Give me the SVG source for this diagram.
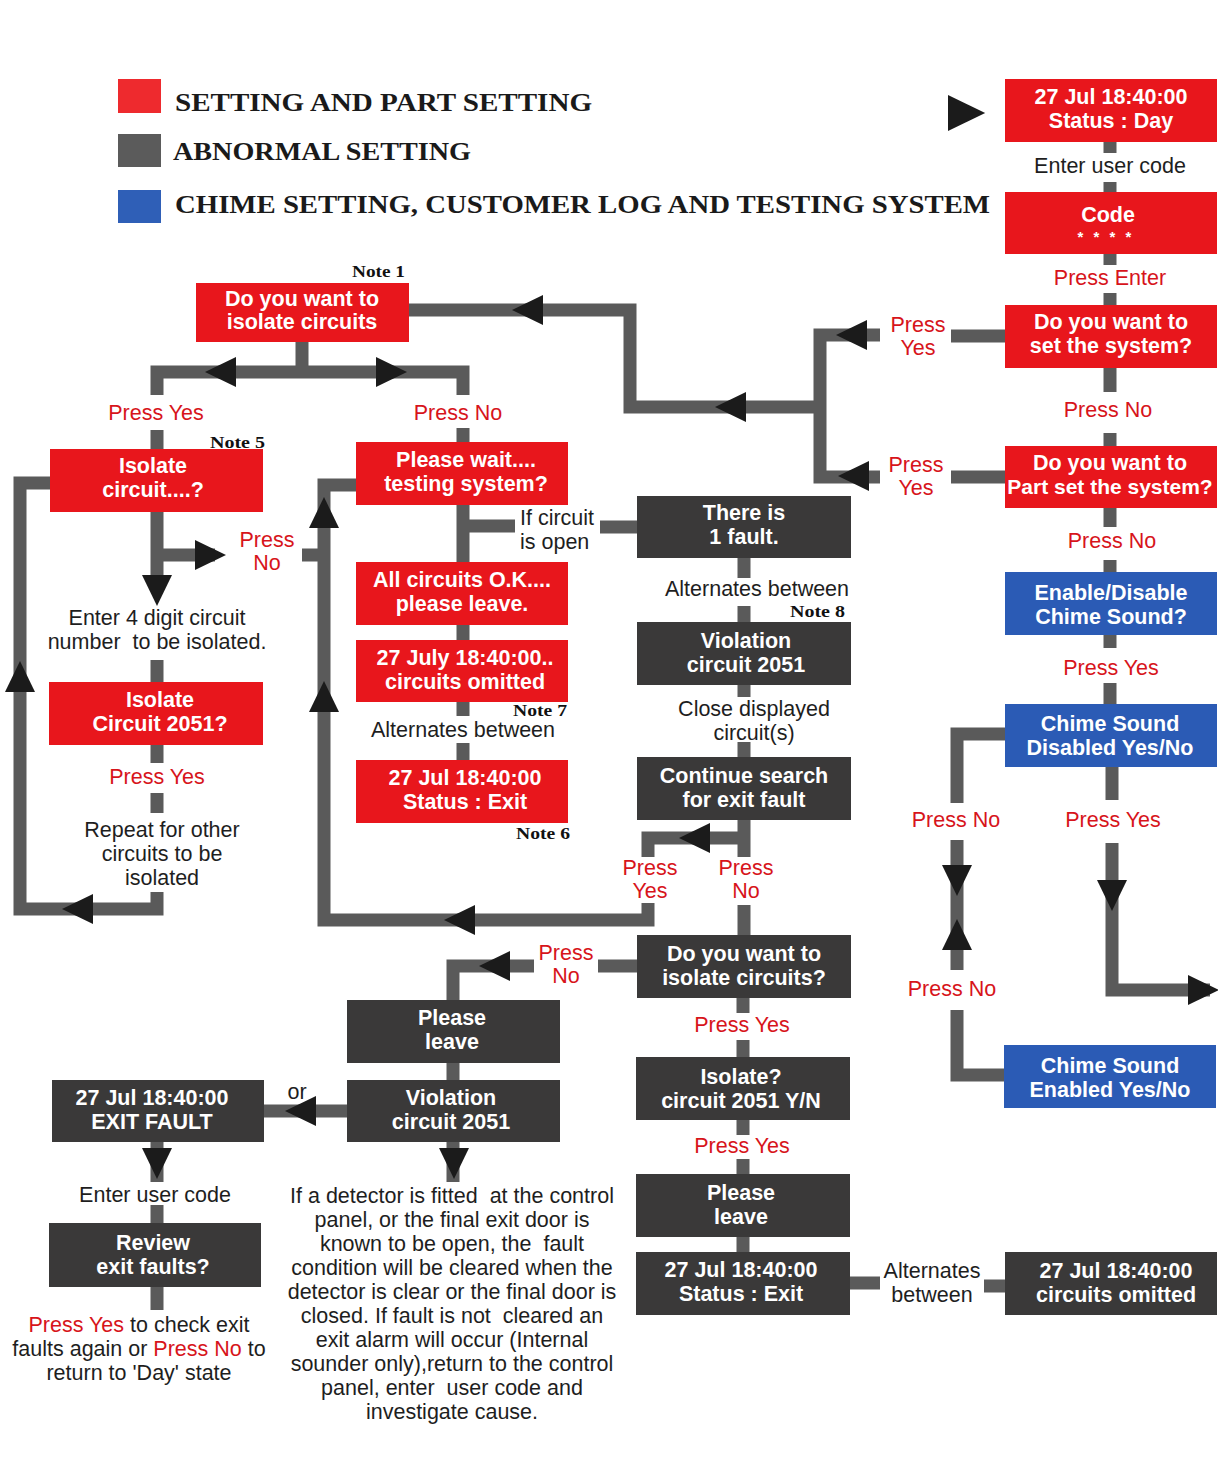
<svg xmlns="http://www.w3.org/2000/svg" xmlns:xlink="http://www.w3.org/1999/xlink" width="1218" height="1459" viewBox="0 0 1218 1459">
<style>
.c{fill:none;stroke:#5a5a5a;stroke-width:13;stroke-linejoin:miter;stroke-linecap:butt}
.red{fill:#e8161c}
.dark{fill:#3a3939}
.blue{fill:#2b5bb5}
.bt{font-family:"Liberation Sans",Arial,sans-serif;font-weight:bold;font-size:21.5px;fill:#fff;text-anchor:middle}
.lbl{font-family:"Liberation Sans",Arial,sans-serif;font-size:21.5px;fill:#d7141b;text-anchor:middle}
.txt{font-family:"Liberation Sans",Arial,sans-serif;font-size:21.5px;fill:#1e1e1e;text-anchor:middle;white-space:pre}
.r{fill:#d7141b}
.note{font-family:"Liberation Serif","Times New Roman",serif;font-weight:bold;font-size:16px;fill:#111}
.leg{font-family:"Liberation Serif","Times New Roman",serif;font-weight:bold;font-size:26px;fill:#1a1a1a}
</style>
<defs>
<path id="ah" d="M16,0 L-15,-15 L-15,15 Z" fill="#1b1b1b"/>
</defs>
<rect x="0" y="0" width="1218" height="1459" fill="#fff"/>

<g id="legend">
<rect x="118" y="79" width="43" height="34" fill="#ee2a2e"/>
<rect x="118" y="134" width="43" height="33" fill="#5b5b5b"/>
<rect x="118" y="190" width="43" height="33" fill="#2f5fb7"/>
<text class="leg" x="175" y="111" textLength="417" lengthAdjust="spacingAndGlyphs">SETTING AND PART SETTING</text>
<text class="leg" x="173" y="160" textLength="298" lengthAdjust="spacingAndGlyphs">ABNORMAL SETTING</text>
<text class="leg" x="175" y="213" textLength="815" lengthAdjust="spacingAndGlyphs">CHIME SETTING, CUSTOMER LOG AND TESTING SYSTEM</text>
</g>

<g id="connectors">
<path class="c" d="M409,310 H630 V407 H820"/>
<path class="c" d="M880,335 H820 V477 H880"/>
<path class="c" d="M951,336 H1005 M951,477 H1005"/>
<path class="c" d="M302,342 V372 M157,395 V372 H463 V395"/>
<path class="c" d="M157,430 V449 M463,428 V442"/>
<path class="c" d="M50,483 H20 V909 H157 V892"/>
<path class="c" d="M157,512 V590 M157,555 H215 M302,555 H324"/>
<path class="c" d="M157,660 V682 M157,745 V763 M157,793 V813"/>
<path class="c" d="M356,485 H324 V920 H648 V903"/>
<path class="c" d="M744,820 V857 M744,838 H648 V857"/>
<path class="c" d="M463,505 V562 M463,526 H515 M600,527 H637"/>
<path class="c" d="M463,625 V640 M463,702 V716 M463,743 V760"/>
<path class="c" d="M744,558 V578 M744,606 V622 M744,685 V697 M744,742 V757"/>
<path class="c" d="M744,905 V935"/>
<path class="c" d="M637,966 H598 M534,966 H453 V1000"/>
<path class="c" d="M453,1063 V1080 M347,1111 H264 M453,1142 V1182 M157,1142 V1182"/>
<path class="c" d="M157,1205 V1223 M157,1287 V1310"/>
<path class="c" d="M743,998 V1013 M743,1040 V1057 M743,1120 V1135 M743,1159 V1174 M743,1237 V1252"/>
<path class="c" d="M850,1283 H880 M984,1286 H1005"/>
<path class="c" d="M1005,734 H957 V803 M957,840 V970 M957,1010 V1075 H1005"/>
<path class="c" d="M1112,767 V800 M1112,843 V990 H1210"/>
<path class="c" d="M1110,142 V153 M1110,182 V192 M1110,254 V265 M1110,293 V305 M1110,368 V392 M1110,433 V446 M1110,508 V527 M1110,560 V572 M1110,635 V648 M1110,683 V704"/>
<use xlink:href="#ah" transform="translate(966,113) scale(1.2)"/>
<use xlink:href="#ah" transform="translate(528,310) rotate(180)"/>
<use xlink:href="#ah" transform="translate(731,407) rotate(180)"/>
<use xlink:href="#ah" transform="translate(852,335) rotate(180)"/>
<use xlink:href="#ah" transform="translate(854,476) rotate(180)"/>
<use xlink:href="#ah" transform="translate(221,372) rotate(180)"/>
<use xlink:href="#ah" transform="translate(391,372)"/>
<use xlink:href="#ah" transform="translate(157,590) rotate(90)"/>
<use xlink:href="#ah" transform="translate(210,555)"/>
<use xlink:href="#ah" transform="translate(20,677) rotate(-90)"/>
<use xlink:href="#ah" transform="translate(78,909) rotate(180)"/>
<use xlink:href="#ah" transform="translate(324,513) rotate(-90)"/>
<use xlink:href="#ah" transform="translate(324,697) rotate(-90)"/>
<use xlink:href="#ah" transform="translate(460,920) rotate(180)"/>
<use xlink:href="#ah" transform="translate(695,838) rotate(180)"/>
<use xlink:href="#ah" transform="translate(495,966) rotate(180)"/>
<use xlink:href="#ah" transform="translate(301,1111) rotate(180)"/>
<use xlink:href="#ah" transform="translate(454,1163) rotate(90)"/>
<use xlink:href="#ah" transform="translate(157,1163) rotate(90)"/>
<use xlink:href="#ah" transform="translate(957,880) rotate(90)"/>
<use xlink:href="#ah" transform="translate(957,935) rotate(-90)"/>
<use xlink:href="#ah" transform="translate(1112,895) rotate(90)"/>
<use xlink:href="#ah" transform="translate(1203,990)"/>
</g>

<g id="labels">
<text class="lbl" x="1110" y="285">Press Enter</text>
<text class="lbl" x="918" y="332">Press</text><text class="lbl" x="918" y="355">Yes</text>
<text class="lbl" x="1108" y="417">Press No</text>
<text class="lbl" x="916" y="472">Press</text><text class="lbl" x="916" y="495">Yes</text>
<text class="lbl" x="1112" y="548">Press No</text>
<text class="lbl" x="1111" y="675">Press Yes</text>
<text class="lbl" x="956" y="827">Press No</text>
<text class="lbl" x="1113" y="827">Press Yes</text>
<text class="lbl" x="952" y="996">Press No</text>
<text class="lbl" x="156" y="420">Press Yes</text>
<text class="lbl" x="458" y="420">Press No</text>
<text class="lbl" x="267" y="547">Press</text><text class="lbl" x="267" y="570">No</text>
<text class="lbl" x="157" y="784">Press Yes</text>
<text class="lbl" x="650" y="875">Press</text><text class="lbl" x="650" y="898">Yes</text>
<text class="lbl" x="746" y="875">Press</text><text class="lbl" x="746" y="898">No</text>
<text class="lbl" x="566" y="960">Press</text><text class="lbl" x="566" y="983">No</text>
<text class="lbl" x="742" y="1032">Press Yes</text>
<text class="lbl" x="742" y="1153">Press Yes</text>

<text class="txt" x="1110" y="173">Enter user code</text>
<text class="txt" x="157" y="625">Enter 4 digit circuit</text>
<text class="txt" x="157" y="649">number  to be isolated.</text>
<text class="txt" x="162" y="837">Repeat for other</text>
<text class="txt" x="162" y="861">circuits to be</text>
<text class="txt" x="162" y="885">isolated</text>
<text class="txt" x="520" y="525" style="text-anchor:start">If circuit</text>
<text class="txt" x="520" y="549" style="text-anchor:start">is open</text>
<text class="txt" x="463" y="737">Alternates between</text>
<text class="txt" x="757" y="596">Alternates between</text>
<text class="txt" x="754" y="716">Close displayed</text>
<text class="txt" x="754" y="740">circuit(s)</text>
<text class="txt" x="297" y="1099">or</text>
<text class="txt" x="155" y="1202">Enter user code</text>
<text class="txt" x="932" y="1278">Alternates</text>
<text class="txt" x="932" y="1302">between</text>
<text class="txt" x="452" y="1203">If a detector is fitted  at the control</text>
<text class="txt" x="452" y="1227">panel, or the final exit door is</text>
<text class="txt" x="452" y="1251">known to be open, the  fault</text>
<text class="txt" x="452" y="1275">condition will be cleared when the</text>
<text class="txt" x="452" y="1299">detector is clear or the final door is</text>
<text class="txt" x="452" y="1323">closed. If fault is not  cleared an</text>
<text class="txt" x="452" y="1347">exit alarm will occur (Internal</text>
<text class="txt" x="452" y="1371">sounder only),return to the control</text>
<text class="txt" x="452" y="1395">panel, enter  user code and</text>
<text class="txt" x="452" y="1419">investigate cause.</text>
<text class="txt" x="139" y="1332"><tspan class="r">Press Yes</tspan> to check exit</text>
<text class="txt" x="139" y="1356">faults again or <tspan class="r">Press No</tspan> to</text>
<text class="txt" x="139" y="1380">return to 'Day' state</text>

<text class="note" x="352" y="277" textLength="53" lengthAdjust="spacingAndGlyphs">Note 1</text>
<text class="note" x="210" y="448" textLength="55" lengthAdjust="spacingAndGlyphs">Note 5</text>
<text class="note" x="513" y="716" textLength="54" lengthAdjust="spacingAndGlyphs">Note 7</text>
<text class="note" x="516" y="839" textLength="54" lengthAdjust="spacingAndGlyphs">Note 6</text>
<text class="note" x="790" y="617" textLength="55" lengthAdjust="spacingAndGlyphs">Note 8</text>
</g>

<g id="n-day"><rect class="red" x="1005" y="79" width="212" height="63"/><text class="bt" x="1111" y="104">27 Jul 18:40:00</text><text class="bt" x="1111" y="128">Status : Day</text></g>
<g id="n-code"><rect class="red" x="1005" y="192" width="212" height="62"/><text class="bt" x="1108" y="222">Code</text><text class="bt" x="1106" y="242" style="font-size:15px;letter-spacing:3px">* * * *</text></g>
<g id="n-set"><rect class="red" x="1005" y="305" width="212" height="63"/><text class="bt" x="1111" y="329">Do you want to</text><text class="bt" x="1111" y="353">set the system?</text></g>
<g id="n-partset"><rect class="red" x="1005" y="446" width="212" height="62"/><text class="bt" x="1110" y="470">Do you want to</text><text class="bt" x="1110" y="494" style="font-size:21px">Part set the system?</text></g>
<g id="n-enable"><rect class="blue" x="1005" y="572" width="212" height="63"/><text class="bt" x="1111" y="600">Enable/Disable</text><text class="bt" x="1111" y="624">Chime Sound?</text></g>
<g id="n-disabled"><rect class="blue" x="1005" y="704" width="212" height="63"/><text class="bt" x="1110" y="731">Chime Sound</text><text class="bt" x="1110" y="755">Disabled Yes/No</text></g>
<g id="n-enabled"><rect class="blue" x="1004" y="1045" width="212" height="63"/><text class="bt" x="1110" y="1073">Chime Sound</text><text class="bt" x="1110" y="1097">Enabled Yes/No</text></g>
<g id="n-omitted2"><rect class="dark" x="1005" y="1252" width="212" height="63"/><text class="bt" x="1116" y="1278">27 Jul 18:40:00</text><text class="bt" x="1116" y="1302">circuits omitted</text></g>

<g id="n-isolateq"><rect class="red" x="196" y="283" width="213" height="59"/><text class="bt" x="302" y="306">Do you want to</text><text class="bt" x="302" y="329">isolate circuits</text></g>
<g id="n-isolatecirc"><rect class="red" x="50" y="449" width="213" height="63"/><text class="bt" x="153" y="473">Isolate</text><text class="bt" x="153" y="497">circuit....?</text></g>
<g id="n-isolate2051"><rect class="red" x="49" y="682" width="214" height="63"/><text class="bt" x="160" y="707">Isolate</text><text class="bt" x="160" y="731">Circuit 2051?</text></g>
<g id="n-wait"><rect class="red" x="356" y="442" width="212" height="63"/><text class="bt" x="466" y="467">Please wait....</text><text class="bt" x="466" y="491">testing system?</text></g>
<g id="n-allok"><rect class="red" x="356" y="562" width="212" height="63"/><text class="bt" x="462" y="587">All circuits O.K....</text><text class="bt" x="462" y="611">please leave.</text></g>
<g id="n-omitted"><rect class="red" x="356" y="640" width="212" height="62"/><text class="bt" x="465" y="665">27 July 18:40:00..</text><text class="bt" x="465" y="689">circuits omitted</text></g>
<g id="n-exit"><rect class="red" x="356" y="760" width="212" height="63"/><text class="bt" x="465" y="785">27 Jul 18:40:00</text><text class="bt" x="465" y="809">Status : Exit</text></g>

<g id="n-fault"><rect class="dark" x="637" y="496" width="214" height="62"/><text class="bt" x="744" y="520">There is</text><text class="bt" x="744" y="544">1 fault.</text></g>
<g id="n-viol1"><rect class="dark" x="637" y="622" width="214" height="63"/><text class="bt" x="746" y="648">Violation</text><text class="bt" x="746" y="672">circuit 2051</text></g>
<g id="n-continue"><rect class="dark" x="637" y="757" width="214" height="63"/><text class="bt" x="744" y="783">Continue search</text><text class="bt" x="744" y="807">for exit fault</text></g>
<g id="n-isolateq2"><rect class="dark" x="637" y="935" width="214" height="63"/><text class="bt" x="744" y="961">Do you want to</text><text class="bt" x="744" y="985">isolate circuits?</text></g>
<g id="n-isolate2"><rect class="dark" x="636" y="1057" width="214" height="63"/><text class="bt" x="741" y="1084">Isolate?</text><text class="bt" x="741" y="1108">circuit 2051 Y/N</text></g>
<g id="n-leave2"><rect class="dark" x="636" y="1174" width="214" height="63"/><text class="bt" x="741" y="1200">Please</text><text class="bt" x="741" y="1224">leave</text></g>
<g id="n-exit2"><rect class="dark" x="636" y="1252" width="214" height="63"/><text class="bt" x="741" y="1277">27 Jul 18:40:00</text><text class="bt" x="741" y="1301">Status : Exit</text></g>

<g id="n-leave1"><rect class="dark" x="347" y="1000" width="213" height="63"/><text class="bt" x="452" y="1025">Please</text><text class="bt" x="452" y="1049">leave</text></g>
<g id="n-viol2"><rect class="dark" x="347" y="1080" width="213" height="62"/><text class="bt" x="451" y="1105">Violation</text><text class="bt" x="451" y="1129">circuit 2051</text></g>
<g id="n-exitfault"><rect class="dark" x="52" y="1080" width="212" height="62"/><text class="bt" x="152" y="1105">27 Jul 18:40:00</text><text class="bt" x="152" y="1129">EXIT FAULT</text></g>
<g id="n-review"><rect class="dark" x="49" y="1223" width="212" height="64"/><text class="bt" x="153" y="1250">Review</text><text class="bt" x="153" y="1274">exit faults?</text></g>
</svg>
